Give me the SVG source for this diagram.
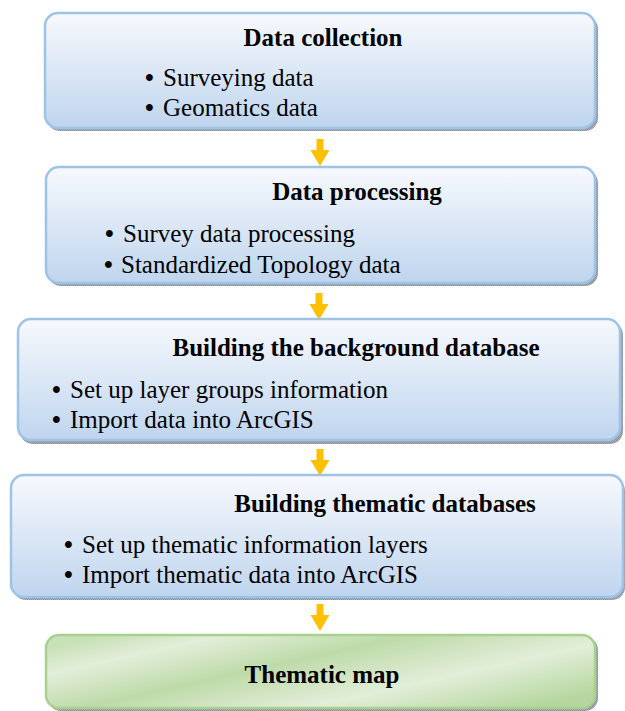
<svg xmlns="http://www.w3.org/2000/svg" width="625" height="711" viewBox="0 0 625 711">
<defs>
<linearGradient id="blue" x1="0" y1="0" x2="0" y2="1">
<stop offset="0" stop-color="#F7F9FD"/>
<stop offset="1" stop-color="#BFD5EE"/>
</linearGradient>
<linearGradient id="green" x1="0" y1="0.2" x2="1" y2="0.8">
<stop offset="0" stop-color="#C9E1B8"/>
<stop offset="0.15" stop-color="#E2EED9"/>
<stop offset="0.4" stop-color="#BEDAA9"/>
<stop offset="0.7" stop-color="#E2EED9"/>
<stop offset="1" stop-color="#B5D69E"/>
</linearGradient>
<pattern id="shade" width="2" height="2" patternUnits="userSpaceOnUse">
<rect width="2" height="2" fill="#A9AEB6"/>
<rect width="1" height="1" fill="#8C929A"/>
<rect x="1" y="1" width="1" height="1" fill="#8C929A"/>
</pattern>
<polygon id="arr" points="-3.5,0 3.5,0 3.5,11 9.5,11 0,27 -9.5,11 -3.5,11"/>
</defs>
<style>
.box{fill:url(#blue);stroke:#9DC3E6;stroke-width:2.5}
.gbox{fill:url(#green);stroke:#A9D18E;stroke-width:2.5}
.sh{fill:url(#shade)}
.t{font-family:"Liberation Serif","Times New Roman",serif;font-weight:bold;font-size:25px;fill:#000;text-anchor:middle}
.b{font-family:"Liberation Serif","Times New Roman",serif;font-size:25px;fill:#000}
.d{font-weight:bold}
.arrow{fill:#FFC000}
</style>
<g id="connectors">
<use href="#arr" class="arrow" x="320" y="139"/>
<use href="#arr" class="arrow" x="319" y="293"/>
<use href="#arr" class="arrow" x="320" y="449"/>
<use href="#arr" class="arrow" x="320" y="604"/>
</g>
<g id="n1">
<rect class="sh" x="47" y="16" width="551" height="115" rx="13"/>
<rect class="box" x="45" y="13" width="550" height="115" rx="13"/>
<text class="t" x="323" y="46">Data collection</text>
<text class="b" x="145" y="86"><tspan class="d">•</tspan><tspan x="163">Surveying data</tspan></text>
<text class="b" x="145" y="116"><tspan class="d">•</tspan><tspan x="163">Geomatics data</tspan></text>
</g>
<g id="n2">
<rect class="sh" x="48" y="170" width="550" height="116" rx="13"/>
<rect class="box" x="46" y="167" width="549" height="116" rx="13"/>
<text class="t" x="357" y="200">Data processing</text>
<text class="b" x="105" y="242"><tspan class="d">•</tspan><tspan x="123">Survey data processing</tspan></text>
<text class="b" x="104" y="273"><tspan class="d">•</tspan><tspan x="121">Standardized Topology data</tspan></text>
</g>
<g id="n3">
<rect class="sh" x="20" y="322" width="603" height="122" rx="13"/>
<rect class="box" x="18" y="319" width="602" height="121" rx="13"/>
<text class="t" x="356" y="356">Building the background database</text>
<text class="b" x="52" y="398"><tspan class="d">•</tspan><tspan x="70">Set up layer groups information</tspan></text>
<text class="b" x="52" y="428"><tspan class="d">•</tspan><tspan x="70">Import data into ArcGIS</tspan></text>
</g>
<g id="n4">
<rect class="sh" x="13" y="478" width="612" height="122" rx="13"/>
<rect class="box" x="11" y="475" width="612" height="122" rx="13"/>
<text class="t" x="385" y="512">Building thematic databases</text>
<text class="b" x="64" y="553"><tspan class="d">•</tspan><tspan x="82">Set up thematic information layers</tspan></text>
<text class="b" x="64" y="583"><tspan class="d">•</tspan><tspan x="82">Import thematic data into ArcGIS</tspan></text>
</g>
<g id="n5">
<rect class="sh" x="48" y="637" width="550" height="74" rx="13"/>
<rect class="gbox" x="46" y="635" width="549" height="73" rx="13"/>
<text class="t" x="322" y="683">Thematic map</text>
</g>
</svg>
